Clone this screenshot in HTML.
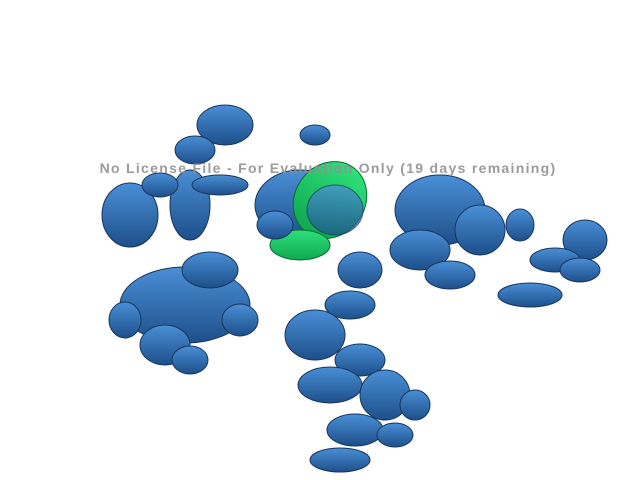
<!DOCTYPE html>
<html><head><meta charset="utf-8"><style>
html,body{margin:0;padding:0;background:#fff;width:640px;height:480px;overflow:hidden}
svg{display:block}
</style></head><body>
<svg width="640" height="480" viewBox="0 0 640 480" xmlns="http://www.w3.org/2000/svg">
<defs>
<linearGradient id="b" x1="0" y1="0" x2="0" y2="1"><stop offset="0" stop-color="#4a8fd6"/><stop offset="1" stop-color="#1d4f8a"/></linearGradient>
<linearGradient id="g" x1="0" y1="0" x2="0" y2="1"><stop offset="0" stop-color="#2ee07a"/><stop offset="1" stop-color="#10a850"/></linearGradient>
</defs>
<g fill="url(#b)" stroke="#16365e" stroke-width="1">
<ellipse cx="225" cy="125" rx="28" ry="20"/>
<ellipse cx="195" cy="150" rx="20" ry="14"/>
<ellipse cx="130" cy="215" rx="28" ry="32"/>
<ellipse cx="190" cy="205" rx="20" ry="35"/>
<ellipse cx="220" cy="185" rx="28" ry="10"/>
<ellipse cx="160" cy="185" rx="18" ry="12"/>
<ellipse cx="185" cy="305" rx="65" ry="38"/>
<ellipse cx="210" cy="270" rx="28" ry="18"/>
<ellipse cx="165" cy="345" rx="25" ry="20"/>
<ellipse cx="190" cy="360" rx="18" ry="14"/>
<ellipse cx="240" cy="320" rx="18" ry="16"/>
<ellipse cx="125" cy="320" rx="16" ry="18"/>
</g>
<g fill="url(#b)" stroke="#16365e" stroke-width="1">
<ellipse cx="440" cy="210" rx="45" ry="35"/>
<ellipse cx="420" cy="250" rx="30" ry="20"/>
<ellipse cx="480" cy="230" rx="25" ry="25"/>
<ellipse cx="520" cy="225" rx="14" ry="16"/>
<ellipse cx="585" cy="240" rx="22" ry="20"/>
<ellipse cx="555" cy="260" rx="25" ry="12"/>
<ellipse cx="580" cy="270" rx="20" ry="12"/>
<ellipse cx="530" cy="295" rx="32" ry="12"/>
<ellipse cx="450" cy="275" rx="25" ry="14"/>
</g>
<g fill="url(#b)" stroke="#16365e" stroke-width="1">
<ellipse cx="360" cy="270" rx="22" ry="18"/>
<ellipse cx="350" cy="305" rx="25" ry="14"/>
<ellipse cx="315" cy="335" rx="30" ry="25"/>
<ellipse cx="360" cy="360" rx="25" ry="16"/>
<ellipse cx="330" cy="385" rx="32" ry="18"/>
<ellipse cx="385" cy="395" rx="25" ry="25"/>
<ellipse cx="415" cy="405" rx="15" ry="15"/>
<ellipse cx="355" cy="430" rx="28" ry="16"/>
<ellipse cx="395" cy="435" rx="18" ry="12"/>
<ellipse cx="340" cy="460" rx="30" ry="12"/>
</g>
<g stroke="#16365e" stroke-width="1">
<ellipse cx="300" cy="205" rx="45" ry="35" fill="url(#b)"/>
<ellipse cx="315" cy="135" rx="15" ry="10" fill="url(#b)"/>
<ellipse cx="330" cy="200" rx="35" ry="40" fill="url(#g)" stroke="#0a6a30" transform="rotate(35 330 200)"/>
<ellipse cx="300" cy="245" rx="30" ry="15" fill="url(#g)" stroke="#0a6a30"/>
<ellipse cx="335" cy="210" rx="28" ry="25" fill="url(#b)" opacity="0.75"/>
<ellipse cx="275" cy="225" rx="18" ry="14" fill="url(#b)"/>
</g>
<text x="328" y="173" text-anchor="middle" font-family="Liberation Sans, sans-serif" font-weight="bold" font-size="14" letter-spacing="1.3" fill="#909090" fill-opacity="0.9">No License File - For Evaluation Only (19 days remaining)</text>
</svg>
</body></html>
